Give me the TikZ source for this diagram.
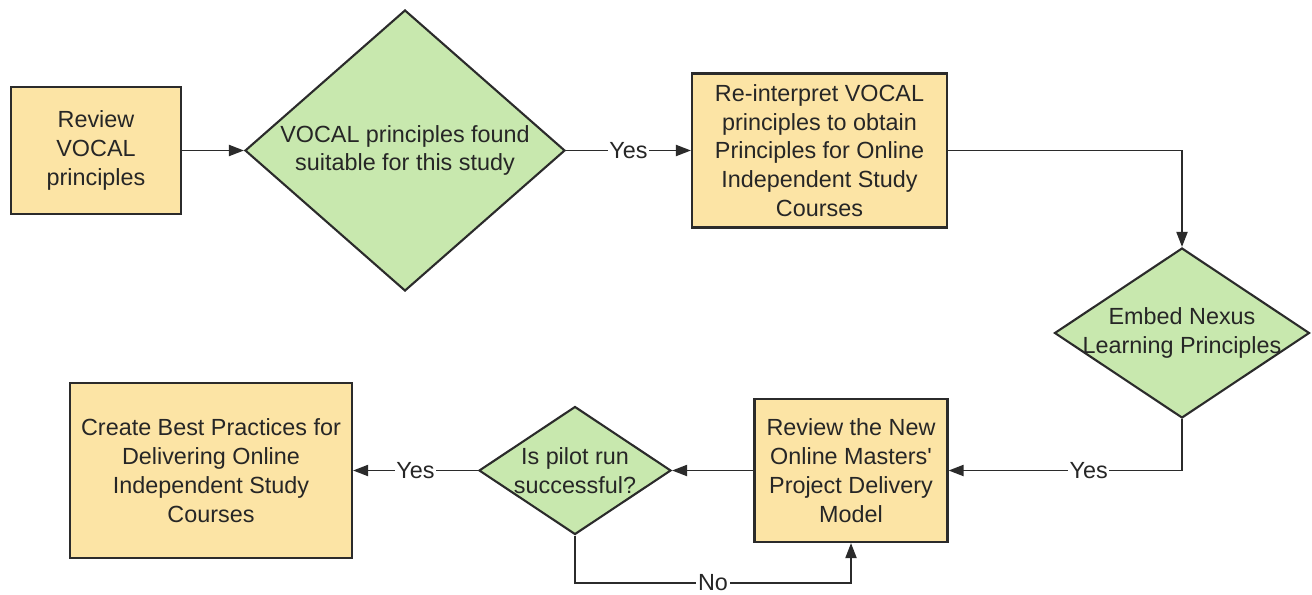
\documentclass[tikz,border=0pt]{standalone}
\usepackage{fontspec}
\setmainfont{Liberation Sans}
\usepackage{tikz}
\usetikzlibrary{shapes.geometric}
\usetikzlibrary{arrows.meta}

\definecolor{boxyellow}{HTML}{FCE4A5}
\definecolor{boxgreen}{HTML}{C8E8AE}
\definecolor{edgegray}{HTML}{2B2B2B}

\begin{document}
\begin{tikzpicture}[
	font=\fontsize{13.3}{16.4}\selectfont, text=black!85,
	process/.style={draw=edgegray, line width=1.2pt, fill=boxyellow, align=center, inner sep=0pt},
	decision/.style={diamond, draw=edgegray, line width=1.2pt, fill=boxgreen, inner sep=0pt},
	flow/.style={draw=edgegray, line width=1.1pt, arrows={-Triangle[length=0.3cm, width=0.22cm]}},
	answer/.style={fill=white, inner sep=1pt}]
	\useasboundingbox (0,0) rectangle (26.24,11.88);

	% top row
	\node [process, minimum width=3.4cm, minimum height=2.54cm] (review) at (1.92,8.87) {Review\\VOCAL\\principles};
	\node [decision, minimum width=6.4cm, minimum height=5.62cm,
		label={[align=center]center:VOCAL principles found\\suitable for this study}] (suitable) at (8.1,8.87) {};
	\node [process, minimum width=5.1cm, minimum height=3.08cm] (reinterpret) at (16.39,8.87)
		{Re-interpret VOCAL\\principles to obtain\\Principles for Online\\Independent Study\\Courses};

	% right side
	\node [decision, minimum width=5.1cm, minimum height=3.4cm,
		label={[align=center]center:Embed Nexus\\Learning Principles}] (embed) at (23.64,5.22) {};

	% bottom row
	\node [process, minimum width=3.86cm, minimum height=2.86cm] (newmodel) at (17.02,2.47)
		{Review the New\\Online Masters\textquotesingle\\Project Delivery\\Model};
	\node [decision, minimum width=3.84cm, minimum height=2.56cm,
		label={[align=center]center:Is pilot run\\successful?}] (pilot) at (11.5,2.47) {};
	\node [process, minimum width=5.64cm, minimum height=3.5cm] (practices) at (4.22,2.47)
		{Create Best Practices for\\Delivering Online\\Independent Study\\Courses};

	% connectors
	\draw [flow] (review) -- (suitable);
	\draw [flow] (suitable) -- node [answer] {Yes} (reinterpret);
	\draw [flow] (reinterpret.east) -| (embed.north);
	\draw [flow] (embed.south) |- node [answer, pos=0.7] {Yes} (newmodel.east);
	\draw [flow] (newmodel) -- (pilot);
	\draw [flow] (pilot) -- node [answer] {Yes} (practices);
	\draw [flow] (pilot.south) -- ++(0,-0.95) -| node [answer, pos=0.25] {No} (newmodel.south);
\end{tikzpicture}
\end{document}
